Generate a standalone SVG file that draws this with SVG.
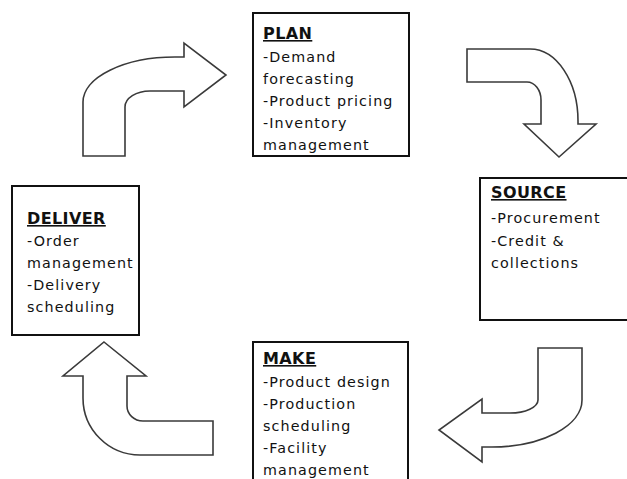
<svg xmlns="http://www.w3.org/2000/svg" width="627" height="479" viewBox="0 0 627 479">
  <style>
    .box { fill: #ffffff; stroke: #111111; stroke-width: 2; }
    .arrow { fill: #ffffff; stroke: #3a3a3a; stroke-width: 1.6; stroke-linejoin: miter; }
    text { font-family: "DejaVu Sans", "Verdana", sans-serif; font-size: 14.3px; fill: #111111; letter-spacing: 1.1px; }
    .title { font-size: 16px; font-weight: bold; text-decoration: underline; letter-spacing: 0.4px; }
  </style>
  <rect width="627" height="479" fill="#ffffff"/>

  <!-- cycle arrows -->
  <g id="connectors">
    <path class="arrow" d="M 83 156 L 83 102 A 92 45 0 0 1 175 57 L 184 57 L 184 43 L 226 75 L 184 107 L 184 91 L 150 91 A 25 16 0 0 0 125 107 L 125 156 Z"/>
    <path class="arrow" d="M 467 49 L 530 49 A 48 72 0 0 1 578 121 L 578 124 L 596 124 L 559 157 L 524 124 L 541 124 L 541 100 A 14 18 0 0 0 527 82 L 467 82 Z"/>
    <path class="arrow" d="M 538 348 L 582 348 L 582 400 A 90 47 0 0 1 492 447 L 482 447 L 482 462 L 439 430 L 482 399 L 482 413 L 510 413 A 28 13 0 0 0 538 400 Z"/>
    <path class="arrow" d="M 104 342 L 146 376 L 127 376 L 127 406 A 16 15 0 0 0 143 421 L 213 421 L 213 455 L 140 455 A 57 57 0 0 1 83 398 L 83 376 L 63 376 Z"/>
  </g>

  <g id="plan">
    <rect class="box" x="253" y="13" width="156" height="143"/>
    <text class="title" x="263" y="39">PLAN</text>
    <text x="263" y="62">-Demand</text>
    <text x="263" y="84">forecasting</text>
    <text x="263" y="106">-Product pricing</text>
    <text x="263" y="128">-Inventory</text>
    <text x="263" y="150">management</text>
  </g>

  <g id="source">
    <rect class="box" x="480" y="178" width="152" height="142"/>
    <text class="title" x="491" y="198">SOURCE</text>
    <text x="491" y="223">-Procurement</text>
    <text x="491" y="246">-Credit &amp;</text>
    <text x="491" y="268">collections</text>
  </g>

  <g id="make">
    <rect class="box" x="253" y="342" width="155" height="142"/>
    <text class="title" x="263" y="364">MAKE</text>
    <text x="263" y="387">-Product design</text>
    <text x="263" y="409">-Production</text>
    <text x="263" y="431">scheduling</text>
    <text x="263" y="453">-Facility</text>
    <text x="263" y="475">management</text>
  </g>

  <g id="deliver">
    <rect class="box" x="12" y="186" width="127" height="149"/>
    <text class="title" x="27" y="224">DELIVER</text>
    <text x="27" y="246">-Order</text>
    <text x="27" y="268">management</text>
    <text x="27" y="290">-Delivery</text>
    <text x="27" y="312">scheduling</text>
  </g>
</svg>
